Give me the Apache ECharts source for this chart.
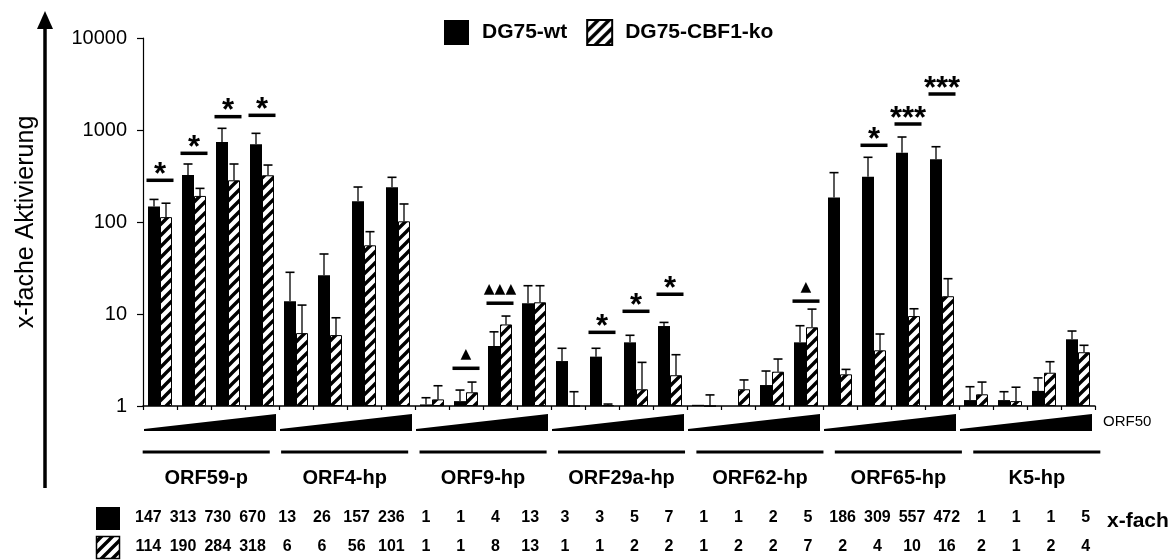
<!DOCTYPE html>
<html>
<head>
<meta charset="utf-8">
<script src="https://cdn.jsdelivr.net/npm/echarts@6/dist/echarts.min.js"></script>
<style>
html,body{margin:0;padding:0;background:#fff;}
#chart{width:1169px;height:560px;}
</style>
</head>
<body>
<div id="chart"></div>
<script>
// ---------- data ----------
const groups = ['ORF59-p','ORF4-hp','ORF9-hp','ORF29a-hp','ORF62-hp','ORF65-hp','K5-hp'];
const doses = ['1','2','3','4'];
const categories = [];
groups.forEach(g => doses.forEach(d => categories.push(g + ' ' + d)));

const seriesNames = ['DG75-wt','DG75-CBF1-ko'];
const wtValues = [147,324,740,699, 13.8,26.3,168,238, 1.04,1.13,4.49,13.1, 3.08,3.44,4.92,7.4, 1.03,1.0,1.69,4.92, 185,311,567,480, 1.16,1.16,1.46,5.31];
const wtUpper  = [176,427,1043,920, 28.4,44.9,240,306, 1.23,1.49,6.4,20.3, 4.24,4.24,5.87,8.1, 1.03,1.0,2.4,7.46, 344,505,839,658, 1.62,1.43,2.02,6.53];
const koValues = [113,192,284,322, 6.2,5.9,55.8,101.7, 1.18,1.41,7.7,13.4, 1.0,1.02,1.52,2.16, 1.0,1.52,2.36,7.17, 2.21,4.03,9.5,15.6, 1.34,1.13,2.3,3.84];
const koUpper  = [160,232,427,416, 12.5,9.1,78.5,157, 1.66,1.82,9.5,20.3, 1.43,1.05,2.98,3.61, 1.32,1.92,3.24,11.3, 2.5,6.06,11.4,24.2, 1.82,1.6,3.03,4.57];

const sigCats   = [0,1,2,3,9,10,13,14,15,19,21,22,23];
const sigLevels = [284,558,1396,1444,2.57,13.1,6.32,10.7,16.4,13.8,682,1162,2462];
const sigMarks  = ['*','*','*','*','\u25B2','\u25B2\u25B2\u25B2','*','*','*','\u25B2','*','***','***'];

const tableWt = ['147','313','730','670','13','26','157','236','1','1','4','13','3','3','5','7','1','1','2','5','186','309','557','472','1','1','1','5'];
const tableKo = ['114','190','284','318','6','6','56','101','1','1','8','13','1','1','2','2','1','2','2','7','2','4','10','16','2','1','2','4'];

const yTicks = [1,10,100,1000,10000];

// ---------- helpers ----------
const FONT = '"Liberation Sans", Arial, Helvetica, sans-serif';
function makeHatch(){
  const s = 11;
  const c = document.createElement('canvas'); c.width = s; c.height = s;
  const g = c.getContext('2d');
  g.fillStyle = '#fff'; g.fillRect(0,0,s,s);
  g.strokeStyle = '#000'; g.lineWidth = 3.4; g.lineCap = 'square';
  g.beginPath();
  g.moveTo(-2, s+2); g.lineTo(s+2, -2);
  g.moveTo(-2, 2); g.lineTo(2, -2);
  g.moveTo(s-2, s+2); g.lineTo(s+2, s-2);
  g.stroke();
  return c;
}
const hatch = {image: makeHatch(), repeat: 'repeat'};

function errRender(offset){
  return function(params, api){
    const i = api.value(0);
    const b = api.coord([i, api.value(1)]);
    const t = api.coord([i, api.value(2)]);
    if (Math.abs(b[1]-t[1]) < 0.8) return null;
    const x = b[0] + offset;
    return {type:'group', children:[
      {type:'line', shape:{x1:x, y1:b[1], x2:x, y2:t[1]}, style:{stroke:'#000', lineWidth:1.3}},
      {type:'line', shape:{x1:x-4.5, y1:t[1], x2:x+4.5, y2:t[1]}, style:{stroke:'#000', lineWidth:1.6}}
    ]};
  };
}

const chart = echarts.init(document.getElementById('chart'), null, {renderer:'canvas'});
chart.setOption({
  animation: false,
  backgroundColor: '#fff',
  legend: {
    left: 444, top: 19, padding: 0,
    itemWidth: 25, itemHeight: 25, itemGap: 19,
    icon: 'rect',
    textStyle: {fontFamily: FONT, fontSize: 21, fontWeight: 'bold', color: '#000', padding: [0,0,0,8]},
    data: seriesNames
  },
  grid: [
    {left: 143, right: 74, top: 38, bottom: 154},
    {left: 137, width: 969, top: 452, height: 1},
    {left: 131, width: 972, top: 509, height: 1}
  ],
  xAxis: [
    {type:'category', gridIndex:0, data: categories, boundaryGap: true,
     axisLine:{lineStyle:{color:'#000', width:1.5}},
     axisTick:{show:true, interval:0, length:4, lineStyle:{color:'#000', width:1.2}},
     axisLabel:{show:false}, splitLine:{show:false}},
    {type:'category', gridIndex:1, data: groups,
     axisLine:{show:false}, axisTick:{show:false},
     axisLabel:{interval:0, margin:15, fontFamily:FONT, fontSize:20, fontWeight:'bold', color:'#000'}},
    {type:'category', gridIndex:2, data: tableWt, position:'bottom',
     axisLine:{show:false}, axisTick:{show:false},
     axisLabel:{interval:0, margin:0, fontFamily:FONT, fontSize:16, fontWeight:'bold', color:'#000'}},
    {type:'category', gridIndex:2, data: tableKo, position:'bottom', offset: 29,
     axisLine:{show:false}, axisTick:{show:false},
     axisLabel:{interval:0, margin:0, fontFamily:FONT, fontSize:16, fontWeight:'bold', color:'#000'}}
  ],
  yAxis: [
    {type:'log', gridIndex:0, logBase:10, min: yTicks[0], max: yTicks[yTicks.length-1],
     name: 'x-fache Aktivierung', nameLocation:'middle', nameGap: 104, nameRotate: 90,
     nameTextStyle:{fontFamily:FONT, fontSize:25, color:'#000'},
     axisLine:{show:true, lineStyle:{color:'#000', width:1.2}},
     axisTick:{show:true, length:6, lineStyle:{color:'#000', width:1.2}},
     minorTick:{show:false},
     axisLabel:{margin:16, fontFamily:FONT, fontSize:20, color:'#000', formatter: v => String(v)},
     splitLine:{show:false}},
    {type:'value', gridIndex:1, min:0, max:1, show:false},
    {type:'value', gridIndex:2, min:0, max:1, show:false}
  ],
  series: [
    {name: seriesNames[0], type:'bar', xAxisIndex:0, yAxisIndex:0, data: wtValues,
     barWidth: 12, barGap: '0%', itemStyle:{color:'#000'}},
    {name: seriesNames[1], type:'bar', xAxisIndex:0, yAxisIndex:0, data: koValues,
     barWidth: 12, barGap: '0%', itemStyle:{color: hatch, borderColor:'#000', borderWidth:1}},
    {type:'custom', xAxisIndex:0, yAxisIndex:0, clip:false, silent:true,
     data: wtValues.map((v,i)=>[i, v, wtUpper[i]]), encode:{x:0, y:[1,2]},
     renderItem: errRender(-6), z: 5},
    {type:'custom', xAxisIndex:0, yAxisIndex:0, clip:false, silent:true,
     data: koValues.map((v,i)=>[i, v, koUpper[i]]), encode:{x:0, y:[1,2]},
     renderItem: errRender(6), z: 5},
    // significance markers
    {type:'custom', xAxisIndex:0, yAxisIndex:0, clip:false, silent:true,
     data: sigCats.map((c,i)=>[c, sigLevels[i]]), encode:{x:0, y:1},
     renderItem: function(params, api){
       const p = api.coord([api.value(0), api.value(1)]);
       const m = sigMarks[params.dataIndex];
       const tri = m.indexOf('\u25B2') >= 0;
       return {type:'group', children:[
         {type:'rect', shape:{x:p[0]-13.5, y:p[1]-1.75, width:27, height:3.5}, style:{fill:'#000'}},
         {type:'text', style:{text:m, x:p[0], y:p[1] - (tri ? 14 : 5), align:'center', verticalAlign:'middle',
           font: tri ? '14px "DejaVu Sans", sans-serif' : 'bold 31px ' + FONT, fill:'#000'}}
       ]};
     }},
    // ORF50 wedges below axis
    {type:'custom', xAxisIndex:0, yAxisIndex:0, clip:false, silent:true,
     data: groups.map((g,i)=>[4*i, 4*i+3]), encode:{x:[0,1]},
     renderItem: function(params, api){
       const s = api.coord([api.value(0), 1]);
       const e = api.coord([api.value(1), 1]);
       const bw = (e[0]-s[0])/3;
       const x0 = s[0]-bw/2+1, x1 = e[0]+bw/2-3, y = s[1];
       return {type:'polygon', shape:{points:[[x0,y+23],[x1,y+8],[x1,y+25],[x0,y+25]]}, style:{fill:'#000'}};
     }},
    // group lines
    {type:'custom', xAxisIndex:1, yAxisIndex:1, clip:false, silent:true,
     data: groups.map((g,i)=>[i, 1]), encode:{x:0, y:1},
     renderItem: function(params, api){
       const p = api.coord([api.value(0), 1]);
       const w = api.size([1,0])[0]*0.918;
       return {type:'rect', shape:{x:p[0]-w/2, y:p[1]-1.5, width:w, height:3}, style:{fill:'#000'}};
     }}
  ],
  graphic: [
    {type:'line', shape:{x1:45, y1:488, x2:45, y2:26}, style:{stroke:'#000', lineWidth:3.5}},
    {type:'polygon', shape:{points:[[45,11],[37,29],[53,29]]}, style:{fill:'#000'}},
    {type:'text', left: 1103, top: 414, style:{text:'ORF50', font:'15px ' + FONT, fill:'#000'}},
    {type:'text', left: 1107, top: 511, style:{text:'x-fach', font:'bold 21px ' + FONT, fill:'#000'}},
    {type:'rect', shape:{x:96, y:507, width:24, height:23}, style:{fill:'#000'}},
    {type:'rect', shape:{x:96.5, y:536.5, width:23, height:22}, style:{fill:hatch, stroke:'#000', lineWidth:1.5}}
  ]
});
</script>
</body>
</html>
